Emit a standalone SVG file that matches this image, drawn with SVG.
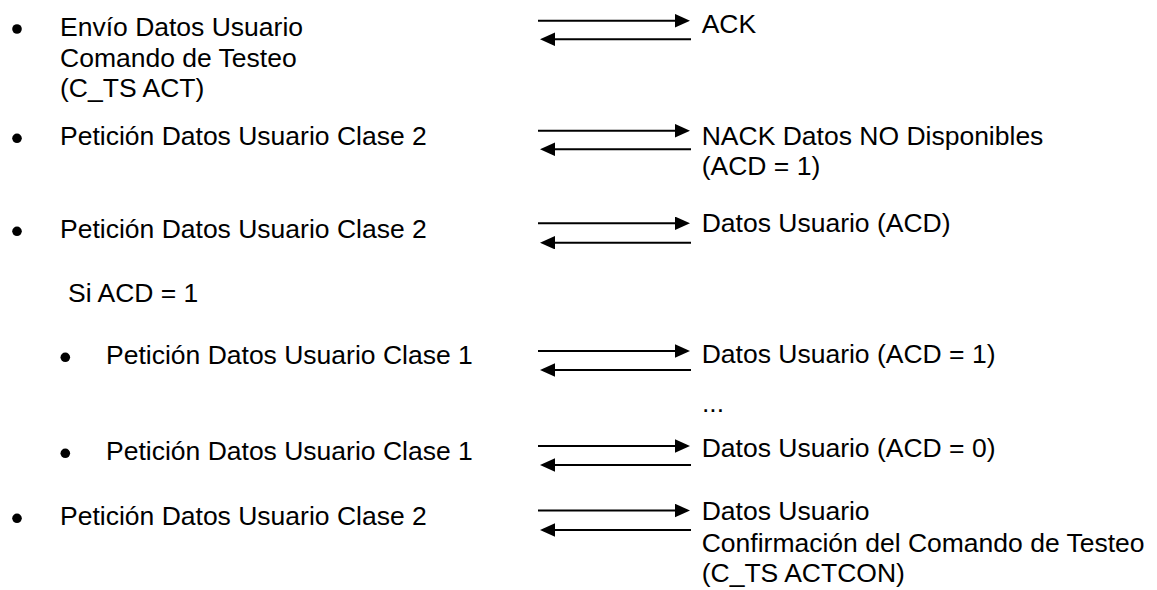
<svg xmlns="http://www.w3.org/2000/svg" width="1157" height="590" viewBox="0 0 1157 590">
<style>
text{font-family:"Liberation Sans",Arial,sans-serif;font-size:26.5px;fill:#000}
.ln{stroke:#000;stroke-width:2;fill:none}
.bul{fill:#000}
</style>
<defs>
<marker id="ah" markerUnits="userSpaceOnUse" markerWidth="16" markerHeight="14" refX="1" refY="6.75" orient="auto">
<path d="M0,0 L15,6.75 L0,13.5 z" fill="#000"/>
</marker>
</defs>
<rect width="1157" height="590" fill="#fff"/>
<g id="item1">
<circle class="bul" cx="17" cy="29" r="4.8"/>
<text x="60" y="35.7">Envío Datos Usuario</text>
<text x="60" y="66.7">Comando de Testeo</text>
<text x="60" y="97">(C_TS ACT)</text>
<text x="701.7" y="33">ACK</text>
</g>
<g id="item2">
<circle class="bul" cx="17" cy="138.3" r="4.8"/>
<text x="60" y="145">Petición Datos Usuario Clase 2</text>
<text x="701.7" y="145">NACK Datos NO Disponibles</text>
<text x="701.7" y="175">(ACD = 1)</text>
</g>
<g id="item3">
<circle class="bul" cx="17" cy="231.3" r="4.8"/>
<text x="60" y="238">Petición Datos Usuario Clase 2</text>
<text x="701.7" y="231.7">Datos Usuario (ACD)</text>
</g>
<g id="cond">
<text x="68" y="301.7">Si ACD = 1</text>
</g>
<g id="item4">
<circle class="bul" cx="65.3" cy="357.3" r="4.8"/>
<text x="106" y="364">Petición Datos Usuario Clase 1</text>
<text x="701.7" y="363.3">Datos Usuario (ACD = 1)</text>
</g>
<g id="ellipsis">
<text x="702" y="411.7">...</text>
</g>
<g id="item5">
<circle class="bul" cx="65.3" cy="453.3" r="4.8"/>
<text x="106" y="460">Petición Datos Usuario Clase 1</text>
<text x="701.7" y="456.7">Datos Usuario (ACD = 0)</text>
</g>
<g id="item6">
<circle class="bul" cx="17" cy="518.3" r="4.8"/>
<text x="60" y="525">Petición Datos Usuario Clase 2</text>
<text x="701.7" y="520">Datos Usuario</text>
<text x="701.7" y="551.7">Confirmación del Comando de Testeo</text>
<text x="701.7" y="581.7">(C_TS ACTCON)</text>
</g>
<g id="connectors">
<line class="ln" x1="538" y1="20.7" x2="676" y2="20.7" marker-end="url(#ah)"/>
<line class="ln" x1="691" y1="39.3" x2="554" y2="39.3" marker-end="url(#ah)"/>
<line class="ln" x1="538" y1="130.7" x2="676" y2="130.7" marker-end="url(#ah)"/>
<line class="ln" x1="691" y1="149.3" x2="554" y2="149.3" marker-end="url(#ah)"/>
<line class="ln" x1="538" y1="223.3" x2="676" y2="223.3" marker-end="url(#ah)"/>
<line class="ln" x1="691" y1="242.7" x2="554" y2="242.7" marker-end="url(#ah)"/>
<line class="ln" x1="538" y1="351" x2="676" y2="351" marker-end="url(#ah)"/>
<line class="ln" x1="691" y1="370" x2="554" y2="370" marker-end="url(#ah)"/>
<line class="ln" x1="538" y1="446" x2="676" y2="446" marker-end="url(#ah)"/>
<line class="ln" x1="691" y1="465" x2="554" y2="465" marker-end="url(#ah)"/>
<line class="ln" x1="538" y1="510.5" x2="676" y2="510.5" marker-end="url(#ah)"/>
<line class="ln" x1="691" y1="530" x2="554" y2="530" marker-end="url(#ah)"/>
</g>
</svg>
